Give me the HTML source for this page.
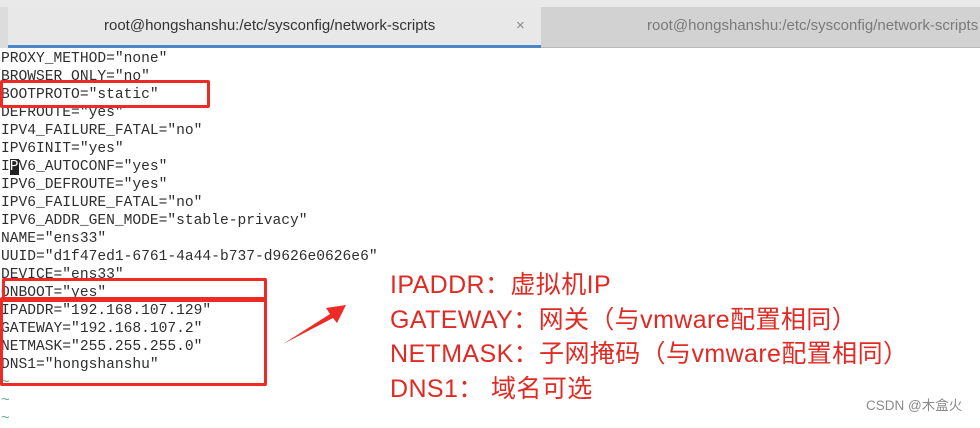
<!DOCTYPE html>
<html><head><meta charset="utf-8"><style>
body{margin:0;width:980px;height:420px;overflow:hidden;background:#fff;position:relative;font-family:"Liberation Sans",sans-serif}
.top{position:absolute;left:0;top:0;width:980px;height:7px;background:#e9e9e9}
.t1{position:absolute;left:8px;top:7px;width:533px;height:38px;background:#e8e8e8;border-bottom:3px solid #4a86c8}
.t0{position:absolute;left:0;top:7px;width:8px;height:41px;background:#dcdcdc}
.t2{position:absolute;left:541px;top:7px;width:439px;height:40px;background:#d2d2d2;border-bottom:1px solid #b8b8b8}
.tt{position:absolute;top:17px;font-size:15px;white-space:nowrap}
.code{position:absolute;left:1px;top:50px;font-family:"Liberation Mono",monospace;font-size:14.6px;line-height:18px;color:#2e2e2e;white-space:pre}
.box{position:absolute;border:3px solid #ee2a24;border-radius:2px}
.red{position:absolute;left:390px;top:268px;font-family:"Liberation Sans","Noto Sans CJK SC",sans-serif;font-size:25px;letter-spacing:0.4px;line-height:34.5px;color:#e02a24;white-space:pre}
.wm{position:absolute;left:866px;top:394px;font-size:13.5px;color:#8a8a8a;font-family:"Liberation Sans","Noto Sans CJK SC",sans-serif}
</style></head><body>
<div class="top"></div><div class="t0"></div>
<div class="t1"></div><div class="t2"></div>
<div class="tt" style="left:104px;color:#333">root@hongshanshu:/etc/sysconfig/network-scripts</div>
<div class="tt" style="left:516px;color:#888">×</div>
<div class="tt" style="left:647px;color:#7a7a7a">root@hongshanshu:/etc/sysconfig/network-scripts</div>
<div class="code">PROXY_METHOD="none"
BROWSER_ONLY="no"
BOOTPROTO="static"
DEFROUTE="yes"
IPV4_FAILURE_FATAL="no"
IPV6INIT="yes"
I<span style="background:#222;color:#fff">P</span>V6_AUTOCONF="yes"
IPV6_DEFROUTE="yes"
IPV6_FAILURE_FATAL="no"
IPV6_ADDR_GEN_MODE="stable-privacy"
NAME="ens33"
UUID="d1f47ed1-6761-4a44-b737-d9626e0626e6"
DEVICE="ens33"
ONBOOT="yes"
IPADDR="192.168.107.129"
GATEWAY="192.168.107.2"
NETMASK="255.255.255.0"
DNS1="hongshanshu"
<span style="color:#6a9">~</span>
<span style="color:#6a9">~</span>
<span style="color:#6a9">~</span></div>
<div class="box" style="left:0;top:80px;width:204px;height:22px"></div>
<div class="box" style="left:2px;top:278px;width:259px;height:18px"></div>
<div class="box" style="left:0;top:297px;width:261px;height:83px"></div>
<svg style="position:absolute;left:0;top:0" width="980" height="420">
<polygon points="283,344 330,314 326,308 346,305 337,323 333,318" fill="#ee2a24"/>
</svg>
<div class="red">IPADDR：虚拟机IP
GATEWAY：网关（与vmware配置相同）
NETMASK：子网掩码（与vmware配置相同）
DNS1： 域名可选</div>
<div class="wm">CSDN @木盒火</div>
</body></html>
